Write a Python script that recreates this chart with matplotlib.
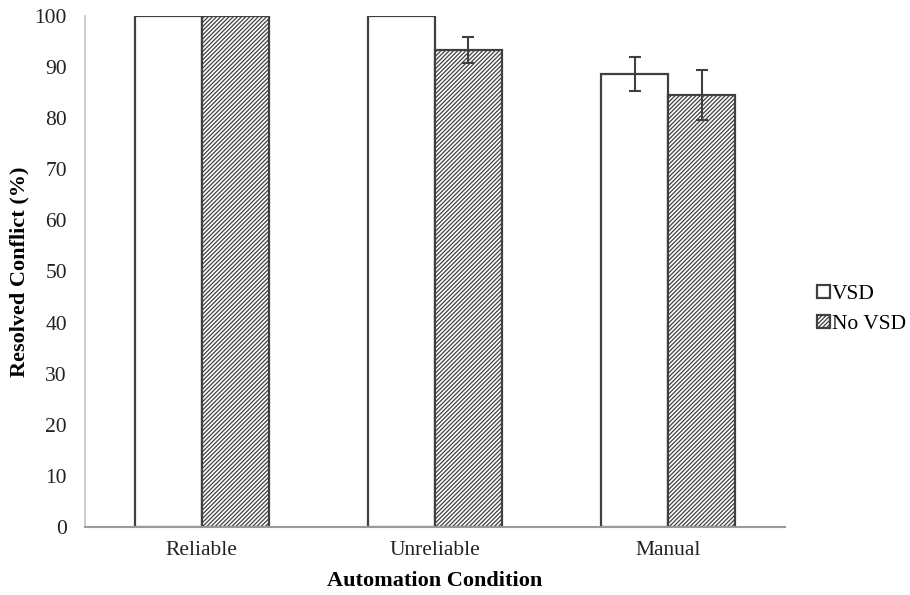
import matplotlib.pyplot as plt
import numpy as np

plt.rcParams['font.family'] = ['Liberation Serif', 'DejaVu Serif']
plt.rcParams['hatch.linewidth'] = 0.9
plt.rcParams['hatch.color'] = '#808080'

# Resolved conflict by automation condition
conditions = ['Reliable', 'Unreliable', 'Manual']
vsd = [100.0, 100.0, 88.7]
vsd_err = [0.0, 0.0, 3.3]
no_vsd = [100.0, 93.4, 84.5]
no_vsd_err = [0.0, 2.5, 4.9]

x = np.arange(len(conditions))
width = 0.287
edge = '#404040'

fig = plt.figure(figsize=(9.1, 5.95), dpi=100)
ax = fig.add_axes([0.0934, 0.1143, 0.7692, 0.8588])

ax.bar(x - width / 2, vsd, width, color='white', edgecolor=edge, linewidth=1.6,
       label='VSD', zorder=2)
ax.bar(x + width / 2, no_vsd, width, color='white', edgecolor=edge, linewidth=1.6,
       hatch='////////', label='No VSD', zorder=2)

# error bars only where there is spread
for xs, vals, errs in [(x - width / 2, vsd, vsd_err), (x + width / 2, no_vsd, no_vsd_err)]:
    for xi, v, e in zip(xs, vals, errs):
        if e > 0:
            ax.errorbar(xi, v, yerr=e, fmt='none', ecolor=edge, elinewidth=1.5,
                        capsize=4.5, capthick=1.5, zorder=3)

ax.set_xlim(-0.5, 2.5)
ax.set_ylim(0, 100)
ax.set_yticks(np.arange(0, 101, 10))
ax.set_xticks(x)
ax.set_xticklabels(conditions)
ax.tick_params(axis='both', length=0, labelsize=15.5, colors='#222222')
ax.tick_params(axis='y', pad=13)
ax.tick_params(axis='x', pad=10)

for s in ['top', 'right']:
    ax.spines[s].set_visible(False)
ax.spines['left'].set_color('#c4c4c4')
ax.spines['bottom'].set_color('#9a9a9a')
ax.spines['left'].set_linewidth(1.2)
ax.spines['bottom'].set_linewidth(1.5)

ax.set_ylabel('Resolved Conflict (%)', fontsize=16, fontweight='bold', labelpad=4)
ax.set_xlabel('Automation Condition', fontsize=16, fontweight='bold', labelpad=8)

fig.legend(loc='center left', bbox_to_anchor=(0.888, 0.48), frameon=False,
           fontsize=15.5, handlelength=0.6, handleheight=0.6, handletextpad=0.1,
           labelspacing=0.5, borderaxespad=0)

fig.savefig('out.png', dpi=100)
